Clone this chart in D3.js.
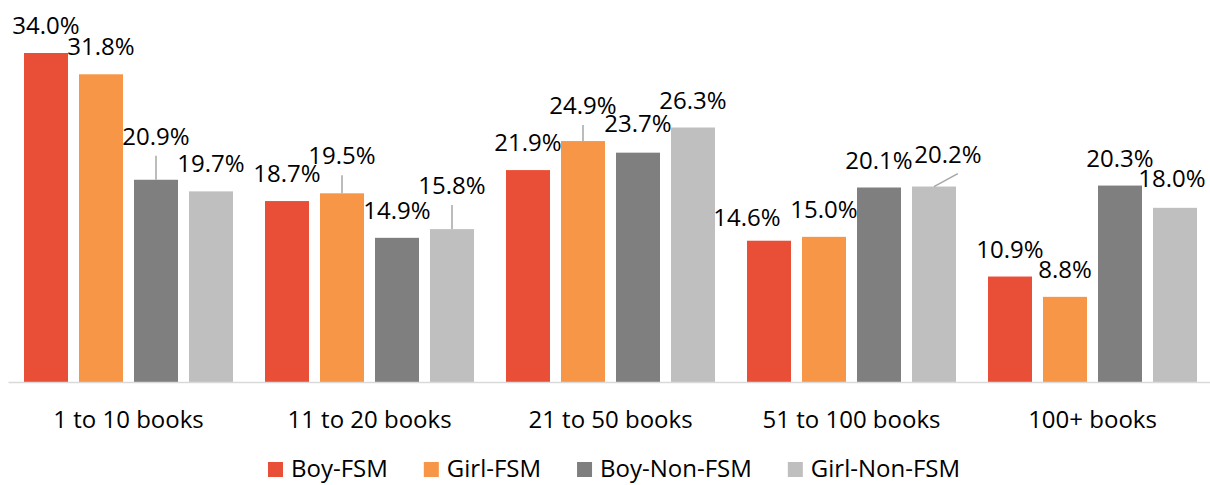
<!DOCTYPE html>
<html>
<head>
<meta charset="utf-8">
<script src="https://cdn.jsdelivr.net/npm/d3@7"></script>
<style>
  body { margin: 0; background: #fff; }
  svg text { font-family: "Open Sans", Lato, sans-serif; fill: #000; }
</style>
</head>
<body>
<svg id="chart" width="1210" height="485"></svg>
<script>
// data
var categories = ["1 to 10 books", "11 to 20 books", "21 to 50 books", "51 to 100 books", "100+ books"];
var seriesNames = ["Boy-FSM", "Girl-FSM", "Boy-Non-FSM", "Girl-Non-FSM"];
var boyFSM = [34.0, 18.7, 21.9, 14.6, 10.9];
var girlFSM = [31.8, 19.5, 24.9, 15.0, 8.8];
var boyNonFSM = [20.9, 14.9, 23.7, 20.1, 20.3];
var girlNonFSM = [19.7, 15.8, 26.3, 20.2, 18.0];
var colors = ["#e94e36", "#f79646", "#7f7f7f", "#bfbfbf"];

// label nudges (dx, dy, leader) where the labels were moved by hand
var labelMoves = {
  "0-2": [0, -16, true],
  "1-1": [0, -10, true],
  "1-3": [0, -16, true],
  "2-1": [0, -8, true],
  "2-2": [0, -2, false],
  "3-0": [-22, 4, false],
  "3-3": [14, -5, true],
  "4-3": [-3, -2, false]
};

var allSeries = [boyFSM, girlFSM, boyNonFSM, girlNonFSM];
var fontSize = "24px";

var svg = d3.select("#chart");

var x0 = d3.scaleBand().domain(categories).range([8, 1213]);
var x1 = d3.scaleBand().domain(seriesNames).range([16, 225]).paddingInner(0.2).paddingOuter(0);
var y = d3.scaleLinear().domain([0, 34]).range([382, 53]);

var groups = svg.selectAll(".grp")
    .data(categories)
    .enter().append("g")
    .attr("class", "grp")
    .attr("transform", function(d) { return "translate(" + x0(d) + ",0)"; });

groups.selectAll("rect")
    .data(function(d, ci) {
        return seriesNames.map(function(s, si) { return {ci: ci, si: si, s: s, v: allSeries[si][ci]}; });
    })
    .enter().append("rect")
    .attr("x", function(d) { return x1(d.s); })
    .attr("y", function(d) { return y(d.v); })
    .attr("width", x1.bandwidth())
    .attr("height", function(d) { return y(0) - y(d.v); })
    .attr("fill", function(d) { return colors[d.si]; });

// axis line
var xAxis = d3.axisBottom(x0).tickSize(0).tickPadding(29);
var ax = svg.append("g")
    .attr("transform", "translate(0," + y(0) + ")")
    .call(xAxis);
ax.select(".domain").attr("stroke", "#d9d9d9").attr("stroke-width", 1.5);
ax.selectAll("text")
    .style("font-size", fontSize)
    .attr("fill", "#000");

// data labels
var labels = [];
categories.forEach(function(c, ci) {
    seriesNames.forEach(function(s, si) {
        var v = allSeries[si][ci];
        var mv = labelMoves[ci + "-" + si] || [0, 0, false];
        var bx = x0(c) + x1(s) + x1.bandwidth() / 2;
        labels.push({v: v, bx: bx, top: y(v), dx: mv[0], dy: mv[1], leader: mv[2]});
    });
});

svg.selectAll(".leader")
    .data(labels.filter(function(d) { return d.leader; }))
    .enter().append("line")
    .attr("class", "leader")
    .attr("x1", function(d) { return d.bx; })
    .attr("y1", function(d) { return d.top; })
    .attr("x2", function(d) { return d.bx + d.dx * 1.7; })
    .attr("y2", function(d) { return d.top - 19 + d.dy + 11; })
    .attr("stroke", "#a6a6a6")
    .attr("stroke-width", 1.5);

svg.selectAll(".dlabel")
    .data(labels)
    .enter().append("text")
    .attr("class", "dlabel")
    .attr("x", function(d) { return d.bx + d.dx; })
    .attr("y", function(d) { return d.top - 19 + d.dy; })
    .attr("text-anchor", "middle")
    .style("font-size", fontSize)
    .text(function(d) { return d.v.toFixed(1) + "%"; });

// legend
var legendY = 477;
var legend = svg.append("g");
var lx = 0;
var items = legend.selectAll(".item")
    .data(seriesNames)
    .enter().append("g")
    .attr("class", "item");
items.append("rect")
    .attr("y", -15)
    .attr("width", 15)
    .attr("height", 15)
    .attr("fill", function(d, i) { return colors[i]; });
items.append("text")
    .attr("x", 23)
    .style("font-size", fontSize)
    .text(function(d) { return d; });
items.each(function() {
    var w = this.getBBox().width;
    d3.select(this).attr("transform", "translate(" + lx + ",0)");
    lx += w + 36;
});
var legendW = lx - 36;
legend.attr("transform", "translate(" + (614 - legendW / 2) + "," + legendY + ")");
</script>
</body>
</html>
